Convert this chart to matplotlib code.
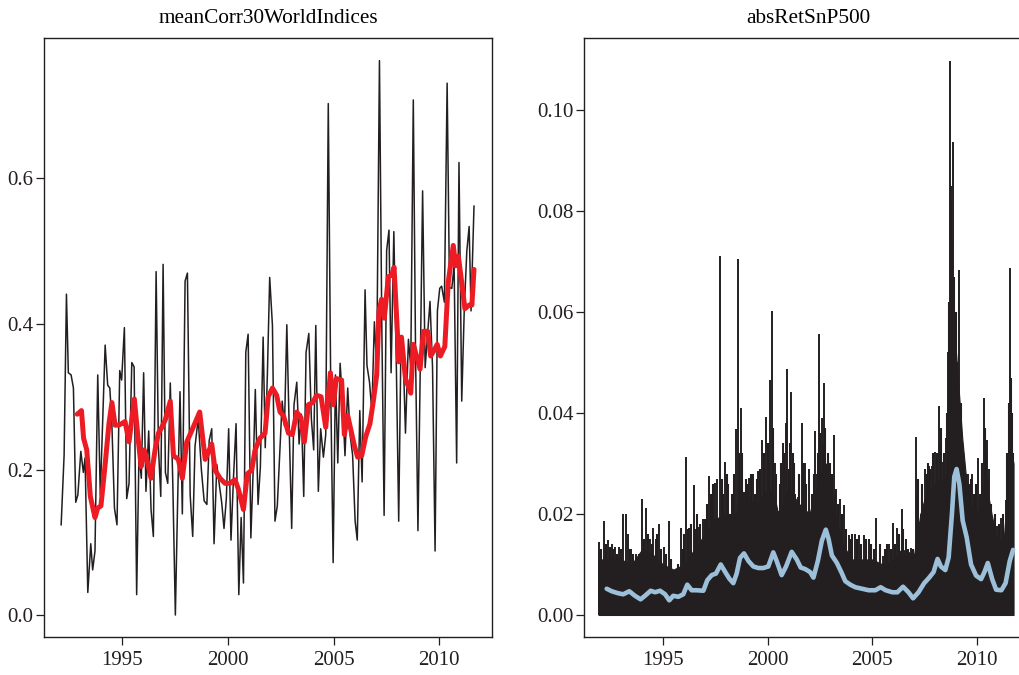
import numpy as np
import matplotlib
matplotlib.use("Agg")
import matplotlib.pyplot as plt

plt.rcParams['font.family'] = ['Liberation Serif', 'DejaVu Serif']

# mean 30-day correlation of world indices (monthly)
corr_t = [1992.12, 1992.26, 1992.37, 1992.46, 1992.59, 1992.70, 1992.81, 1992.91, 1993.05, 1993.17,
          1993.25, 1993.38, 1993.52, 1993.61, 1993.72, 1993.85, 1993.97, 1994.20, 1994.32, 1994.42,
          1994.51, 1994.64, 1994.76, 1994.89, 1994.98, 1995.11, 1995.22, 1995.33, 1995.46, 1995.57,
          1995.69, 1995.80, 1995.91, 1996.02, 1996.13, 1996.26, 1996.37, 1996.48, 1996.61, 1996.72,
          1996.83, 1996.94, 1997.05, 1997.16, 1997.28, 1997.40, 1997.52, 1997.63, 1997.74, 1997.85,
          1997.98, 1998.09, 1998.22, 1998.34, 1998.45, 1998.60, 1998.75, 1998.88, 1999.01, 1999.12,
          1999.24, 1999.35, 1999.48, 1999.59, 1999.71, 1999.82, 1999.93, 2000.04, 2000.15, 2000.27,
          2000.39, 2000.52, 2000.63, 2000.74, 2000.85, 2000.96, 2001.09, 2001.20, 2001.30, 2001.43,
          2001.54, 2001.67, 2001.77, 2001.87, 2001.98, 2002.11, 2002.23, 2002.34, 2002.45, 2002.57,
          2002.68, 2002.79, 2002.90, 2003.02, 2003.13, 2003.26, 2003.37, 2003.48, 2003.59, 2003.70,
          2003.83, 2003.95, 2004.06, 2004.16, 2004.28, 2004.39, 2004.52, 2004.63, 2004.75, 2004.87,
          2004.98, 2005.09, 2005.20, 2005.31, 2005.43, 2005.54, 2005.67, 2005.78, 2005.90, 2006.02,
          2006.12, 2006.24, 2006.35, 2006.49, 2006.58, 2006.70, 2006.81, 2006.93, 2007.04, 2007.17,
          2007.28, 2007.39, 2007.51, 2007.62, 2007.72, 2007.85, 2007.97, 2008.08, 2008.19, 2008.30,
          2008.40, 2008.54, 2008.65, 2008.77, 2008.88, 2008.99, 2009.10, 2009.21, 2009.33, 2009.45,
          2009.56, 2009.68, 2009.80, 2009.91, 2010.02, 2010.11, 2010.24, 2010.37, 2010.48, 2010.59,
          2010.70, 2010.82, 2010.93, 2011.06, 2011.18, 2011.30, 2011.41, 2011.50, 2011.64]
corr_v = [0.124, 0.220, 0.441, 0.333, 0.330, 0.312, 0.155, 0.165, 0.225, 0.196,
          0.216, 0.031, 0.098, 0.062, 0.088, 0.330, 0.165, 0.371, 0.316, 0.312,
          0.270, 0.147, 0.124, 0.336, 0.323, 0.395, 0.160, 0.181, 0.347, 0.341,
          0.028, 0.222, 0.188, 0.333, 0.170, 0.253, 0.145, 0.108, 0.472, 0.230,
          0.163, 0.482, 0.196, 0.181, 0.319, 0.180, 0.000, 0.160, 0.307, 0.139,
          0.459, 0.470, 0.165, 0.108, 0.232, 0.270, 0.200, 0.157, 0.152, 0.240,
          0.256, 0.098, 0.207, 0.181, 0.155, 0.119, 0.160, 0.256, 0.103, 0.190,
          0.263, 0.028, 0.134, 0.044, 0.361, 0.386, 0.106, 0.200, 0.310, 0.152,
          0.204, 0.382, 0.230, 0.330, 0.464, 0.398, 0.129, 0.150, 0.220, 0.294,
          0.260, 0.399, 0.260, 0.119, 0.289, 0.320, 0.235, 0.276, 0.163, 0.361,
          0.387, 0.270, 0.227, 0.398, 0.170, 0.256, 0.217, 0.248, 0.703, 0.300,
          0.072, 0.330, 0.209, 0.346, 0.290, 0.219, 0.312, 0.248, 0.220, 0.129,
          0.103, 0.281, 0.183, 0.447, 0.343, 0.320, 0.280, 0.403, 0.340, 0.762,
          0.400, 0.137, 0.501, 0.529, 0.333, 0.527, 0.340, 0.129, 0.382, 0.349,
          0.250, 0.379, 0.341, 0.708, 0.350, 0.116, 0.341, 0.583, 0.340, 0.387,
          0.431, 0.340, 0.088, 0.418, 0.449, 0.452, 0.430, 0.731, 0.450, 0.449,
          0.480, 0.209, 0.622, 0.294, 0.420, 0.500, 0.534, 0.418, 0.562]

# smoothed correlation
smooth_t = [1992.88, 1993.08, 1993.18, 1993.33, 1993.50, 1993.72, 1993.85, 1994.00, 1994.20, 1994.38,
            1994.52, 1994.67, 1994.83, 1994.98, 1995.14, 1995.33, 1995.58, 1995.74, 1995.90, 1996.05,
            1996.20, 1996.37, 1996.56, 1996.72, 1996.88, 1997.04, 1997.28, 1997.43, 1997.66, 1997.85,
            1998.06, 1998.29, 1998.48, 1998.67, 1998.93, 1999.24, 1999.40, 1999.63, 1999.87, 2000.10,
            2000.34, 2000.50, 2000.74, 2000.92, 2001.13, 2001.29, 2001.52, 2001.76, 2001.91, 2002.11,
            2002.31, 2002.47, 2002.63, 2002.87, 2003.05, 2003.26, 2003.46, 2003.62, 2003.81, 2004.01,
            2004.20, 2004.41, 2004.63, 2004.85, 2004.99, 2005.13, 2005.38, 2005.51, 2005.67, 2005.99,
            2006.14, 2006.33, 2006.52, 2006.72, 2006.88, 2007.04, 2007.15, 2007.27, 2007.40, 2007.59,
            2007.75, 2007.86, 2008.09, 2008.21, 2008.40, 2008.65, 2008.77, 2009.09, 2009.25, 2009.45,
            2009.59, 2009.76, 2009.90, 2010.05, 2010.26, 2010.42, 2010.66, 2010.77, 2010.90, 2011.06,
            2011.21, 2011.41, 2011.54, 2011.64]
smooth_v = [0.276, 0.281, 0.243, 0.227, 0.163, 0.134, 0.147, 0.150, 0.207, 0.263,
            0.292, 0.261, 0.261, 0.263, 0.266, 0.238, 0.297, 0.248, 0.204, 0.227,
            0.210, 0.188, 0.227, 0.250, 0.258, 0.268, 0.294, 0.219, 0.214, 0.188,
            0.238, 0.253, 0.266, 0.279, 0.214, 0.235, 0.199, 0.188, 0.181, 0.181,
            0.186, 0.173, 0.145, 0.194, 0.199, 0.227, 0.243, 0.250, 0.300, 0.312,
            0.302, 0.279, 0.274, 0.250, 0.248, 0.279, 0.271, 0.238, 0.289, 0.292,
            0.302, 0.300, 0.258, 0.333, 0.289, 0.325, 0.323, 0.248, 0.274, 0.232,
            0.217, 0.219, 0.245, 0.263, 0.294, 0.330, 0.418, 0.434, 0.408, 0.465,
            0.467, 0.478, 0.348, 0.382, 0.325, 0.305, 0.372, 0.338, 0.390, 0.390,
            0.356, 0.364, 0.372, 0.356, 0.369, 0.457, 0.508, 0.480, 0.493, 0.457,
            0.421, 0.426, 0.426, 0.475]

# absolute S&P 500 returns: solid core of the daily series
band_t = [1991.92, 1992.5, 1993.0, 1993.5, 1994.0, 1994.5, 1995.0, 1995.5, 1996.0, 1996.5,
          1997.0, 1997.5, 1998.0, 1998.5, 1998.7, 1999.0, 1999.5, 2000.0, 2000.3, 2000.5,
          2001.0, 2001.5, 2002.0, 2002.5, 2002.8, 2003.2, 2003.6, 2004.0, 2004.5, 2005.0,
          2005.5, 2006.0, 2006.4, 2007.0, 2007.3, 2007.5, 2008.0, 2008.5, 2008.65, 2008.75,
          2009.0, 2009.3, 2009.6, 2010.0, 2010.4, 2010.7, 2011.0, 2011.3, 2011.6, 2011.75]
band_v = [0.011, 0.011, 0.011, 0.010, 0.013, 0.012, 0.010, 0.009, 0.010, 0.013,
          0.016, 0.019, 0.020, 0.020, 0.025, 0.023, 0.022, 0.025, 0.024, 0.020,
          0.025, 0.022, 0.020, 0.028, 0.030, 0.020, 0.014, 0.011, 0.011, 0.011,
          0.010, 0.011, 0.013, 0.012, 0.020, 0.023, 0.026, 0.027, 0.040, 0.060,
          0.052, 0.035, 0.022, 0.020, 0.027, 0.020, 0.014, 0.016, 0.033, 0.030]

# larger daily moves
spike_t = [1991.94, 1992.18, 1992.39, 1992.55, 1992.71, 1992.90, 1993.10, 1993.22, 1993.31, 1993.46,
           1993.71, 1994.01, 1994.17, 1994.38, 1994.54, 1994.81, 1995.05, 1995.30, 1995.57, 1995.85,
           1996.10, 1996.26, 1996.47, 1996.69, 1996.90, 1997.20, 1997.48, 1997.60, 1997.72, 1997.96,
           1998.20, 1998.47, 1998.58, 1998.71, 1998.87, 1999.12, 1999.31, 1999.55, 1999.72, 1999.92,
           2000.11, 2000.19, 2000.35, 2000.51, 2000.72, 2000.86, 2000.91, 2001.12, 2001.31, 2001.44,
           2001.63, 2001.78, 2001.98, 2002.27, 2002.36, 2002.46, 2002.59, 2002.70, 2002.83, 2003.15,
           2003.26, 2003.47, 2003.66, 2003.87, 2004.16, 2004.36, 2004.59, 2004.83, 2005.20, 2005.51,
           2005.80, 2005.99, 2006.20, 2006.40, 2006.60, 2006.84, 2007.09, 2007.32, 2007.53, 2007.72,
           2007.85, 2008.01, 2008.17, 2008.36, 2008.50, 2008.64, 2008.73, 2008.78, 2008.84, 2008.97,
           2009.07, 2009.16, 2009.29, 2009.40, 2009.56, 2009.77, 2010.05, 2010.32, 2010.48, 2010.60,
           2010.77, 2010.96, 2011.17, 2011.37, 2011.57, 2011.70]
spike_v = [0.0144, 0.0187, 0.0148, 0.0141, 0.0135, 0.0135, 0.0200, 0.0200, 0.0161, 0.0130,
           0.0120, 0.0229, 0.0211, 0.0151, 0.0172, 0.0180, 0.0134, 0.0186, 0.0086, 0.0172,
           0.0313, 0.0172, 0.0258, 0.0175, 0.0190, 0.0276, 0.0261, 0.0270, 0.0711, 0.0302,
           0.0196, 0.0369, 0.0704, 0.0409, 0.0244, 0.0271, 0.0280, 0.0285, 0.0347, 0.0392,
           0.0465, 0.0601, 0.0300, 0.0206, 0.0340, 0.0381, 0.0488, 0.0441, 0.0240, 0.0234,
           0.0380, 0.0300, 0.0289, 0.0365, 0.0280, 0.0556, 0.0390, 0.0460, 0.0274, 0.0356,
           0.0250, 0.0230, 0.0218, 0.0158, 0.0160, 0.0158, 0.0158, 0.0150, 0.0193, 0.0116,
           0.0140, 0.0183, 0.0173, 0.0210, 0.0150, 0.0133, 0.0352, 0.0200, 0.0289, 0.0296,
           0.0295, 0.0322, 0.0414, 0.0303, 0.0350, 0.0520, 0.1097, 0.0850, 0.0937, 0.0520,
           0.0500, 0.0684, 0.0330, 0.0305, 0.0280, 0.0280, 0.0310, 0.0429, 0.0347, 0.0290,
           0.0170, 0.0176, 0.0192, 0.0227, 0.0688, 0.0320]

# medium-sized daily moves along the top of the band
minor_t = [1992.05, 1992.28, 1992.47, 1992.63, 1992.80, 1993.00, 1993.40, 1993.58, 1993.85, 1994.10,
           1994.28, 1994.46, 1994.65, 1994.72, 1994.92, 1995.15, 1995.40, 1995.70, 1995.95, 1996.02,
           1996.18, 1996.35, 1996.55, 1996.62, 1996.78, 1997.00, 1997.10, 1997.30, 1997.40, 1997.80,
           1997.88, 1998.05, 1998.12, 1998.30, 1998.40, 1998.64, 1998.78, 1998.95, 1999.05, 1999.20,
           1999.40, 1999.48, 1999.63, 1999.82, 2000.00, 2000.05, 2000.25, 2000.28, 2000.42, 2000.60,
           2000.65, 2000.80, 2001.00, 2001.05, 2001.20, 2001.25, 2001.50, 2001.70, 2001.85, 2002.10,
           2002.20, 2002.40, 2002.52, 2002.65, 2002.76, 2002.90, 2003.00, 2003.08, 2003.20, 2003.35,
           2003.55, 2003.75, 2003.95, 2004.05, 2004.25, 2004.45, 2004.70, 2004.95, 2005.10, 2005.35,
           2005.60, 2005.70, 2005.90, 2006.10, 2006.30, 2006.45, 2006.70, 2006.95, 2007.15, 2007.20,
           2007.40, 2007.60, 2007.65, 2007.78, 2007.92, 2008.08, 2008.25, 2008.30, 2008.45, 2008.55,
           2008.68, 2008.76, 2008.81, 2008.90, 2009.02, 2009.12, 2009.22, 2009.35, 2009.48, 2009.62,
           2009.70, 2009.85, 2009.95, 2010.15, 2010.25, 2010.38, 2010.42, 2010.55, 2010.68, 2010.85,
           2011.05, 2011.25, 2011.45, 2011.52, 2011.62, 2011.66, 2011.74]
minor_v = [0.013, 0.014, 0.0135, 0.013, 0.012, 0.013, 0.013, 0.012, 0.012, 0.015,
           0.016, 0.014, 0.015, 0.016, 0.013, 0.012, 0.011, 0.010, 0.013, 0.016,
           0.017, 0.018, 0.017, 0.020, 0.018, 0.019, 0.022, 0.024, 0.026, 0.027,
           0.024, 0.028, 0.026, 0.024, 0.028, 0.032, 0.032, 0.027, 0.026, 0.028,
           0.024, 0.027, 0.029, 0.032, 0.034, 0.030, 0.032, 0.037, 0.028, 0.026,
           0.030, 0.032, 0.029, 0.034, 0.032, 0.030, 0.028, 0.030, 0.026, 0.024,
           0.028, 0.032, 0.036, 0.034, 0.037, 0.032, 0.030, 0.028, 0.024, 0.022,
           0.020, 0.017, 0.015, 0.016, 0.015, 0.014, 0.015, 0.014, 0.013, 0.014,
           0.013, 0.014, 0.013, 0.014, 0.016, 0.017, 0.013, 0.013, 0.024, 0.027,
           0.026, 0.028, 0.030, 0.029, 0.032, 0.032, 0.034, 0.037, 0.032, 0.040,
           0.062, 0.082, 0.074, 0.067, 0.060, 0.047, 0.042, 0.032, 0.028, 0.026,
           0.027, 0.024, 0.026, 0.024, 0.030, 0.037, 0.032, 0.027, 0.022, 0.020,
           0.018, 0.020, 0.032, 0.042, 0.047, 0.040, 0.032]

# smoothed absolute returns
vol_t = [1992.31, 1992.55, 1992.86, 1993.10, 1993.39, 1993.66, 1993.93, 1994.14, 1994.41, 1994.62,
         1994.86, 1995.10, 1995.30, 1995.49, 1995.73, 1995.97, 1996.16, 1996.37, 1996.61, 1996.93,
         1997.12, 1997.33, 1997.53, 1997.76, 1997.96, 1998.17, 1998.36, 1998.52, 1998.68, 1998.87,
         1999.08, 1999.32, 1999.56, 1999.79, 2000.03, 2000.27, 2000.43, 2000.67, 2000.88, 2001.15,
         2001.39, 2001.58, 2001.79, 2002.03, 2002.19, 2002.40, 2002.59, 2002.78, 2002.91, 2003.07,
         2003.31, 2003.52, 2003.71, 2003.95, 2004.19, 2004.51, 2004.83, 2005.15, 2005.40, 2005.64,
         2005.96, 2006.20, 2006.47, 2006.73, 2006.95, 2007.21, 2007.48, 2007.72, 2007.93, 2008.12,
         2008.28, 2008.49, 2008.65, 2008.81, 2008.92, 2009.03, 2009.16, 2009.32, 2009.51, 2009.72,
         2009.96, 2010.20, 2010.36, 2010.52, 2010.73, 2010.92, 2011.17, 2011.37, 2011.57, 2011.73]
vol_v = [0.0052, 0.0047, 0.0043, 0.0041, 0.0047, 0.0038, 0.0031, 0.0038, 0.0048, 0.0045,
         0.0048, 0.0041, 0.0029, 0.0038, 0.0036, 0.0041, 0.0060, 0.0049, 0.0049, 0.0048,
         0.0069, 0.0079, 0.0082, 0.0100, 0.0086, 0.0072, 0.0063, 0.0082, 0.0113, 0.0122,
         0.0107, 0.0096, 0.0093, 0.0093, 0.0096, 0.0124, 0.0107, 0.0079, 0.0096, 0.0125,
         0.0110, 0.0094, 0.0091, 0.0085, 0.0074, 0.0107, 0.0147, 0.0169, 0.0151, 0.0118,
         0.0103, 0.0085, 0.0067, 0.0060, 0.0055, 0.0052, 0.0049, 0.0049, 0.0055, 0.0049,
         0.0045, 0.0045, 0.0056, 0.0045, 0.0033, 0.0045, 0.0063, 0.0074, 0.0085, 0.0111,
         0.0096, 0.0089, 0.0114, 0.0202, 0.0274, 0.0289, 0.0260, 0.0187, 0.0154, 0.0100,
         0.0078, 0.0071, 0.0085, 0.0103, 0.0071, 0.0050, 0.0049, 0.0063, 0.0107, 0.0129]

years = [1995, 2000, 2005, 2010]
ink = '#231f20'

fig = plt.figure(figsize=(10.19, 6.75), dpi=100)
# both panels share one width; the right one runs past the canvas edge
ax1 = fig.add_axes([0.0432, 0.0563, 0.4396, 0.8874])
ax2 = fig.add_axes([0.5731, 0.0563, 0.4396, 0.8874])

ax1.plot(corr_t, corr_v, color=ink, lw=1.1)
ax1.plot(smooth_t, smooth_v, color='#ed1c24', lw=3.6, solid_capstyle='round', solid_joinstyle='round')
ax1.set_xlim(1991.31, 2012.49)
ax1.set_ylim(-0.0302, 0.7931)
ax1.set_yticks([0.0, 0.2, 0.4, 0.6])
ax1.set_yticklabels(['0.0', '0.2', '0.4', '0.6'])
ax1.set_title('meanCorr30WorldIndices', fontsize=15.3, pad=11)

ax2.fill_between(band_t, 0, band_v, color=ink, lw=0.8)
ax2.vlines(minor_t, 0, minor_v, color=ink, lw=1.5)
ax2.vlines(spike_t, 0, spike_v, color=ink, lw=1.4)
ax2.plot(vol_t, vol_v, color='#9dc0da', lw=3.3, solid_capstyle='round', solid_joinstyle='round')
ax2.set_xlim(1991.225, 2012.63)
ax2.set_ylim(-0.00436, 0.11426)
ax2.set_yticks([0.0, 0.02, 0.04, 0.06, 0.08, 0.10])
ax2.set_yticklabels(['0.00', '0.02', '0.04', '0.06', '0.08', '0.10'])
ax2.set_title('absRetSnP500', fontsize=15.3, pad=11)

for ax in (ax1, ax2):
    ax.set_xticks(years)
    ax.set_xticklabels([str(y) for y in years])
    ax.tick_params(direction='out', length=6, width=0.9, labelsize=15, color=ink, labelcolor=ink)
    ax.tick_params(axis='y', pad=1.5)
    ax.tick_params(axis='x', pad=4)
    for s in ax.spines.values():
        s.set_linewidth(1.0)
        s.set_color(ink)

fig.savefig('out.png', dpi=100)
